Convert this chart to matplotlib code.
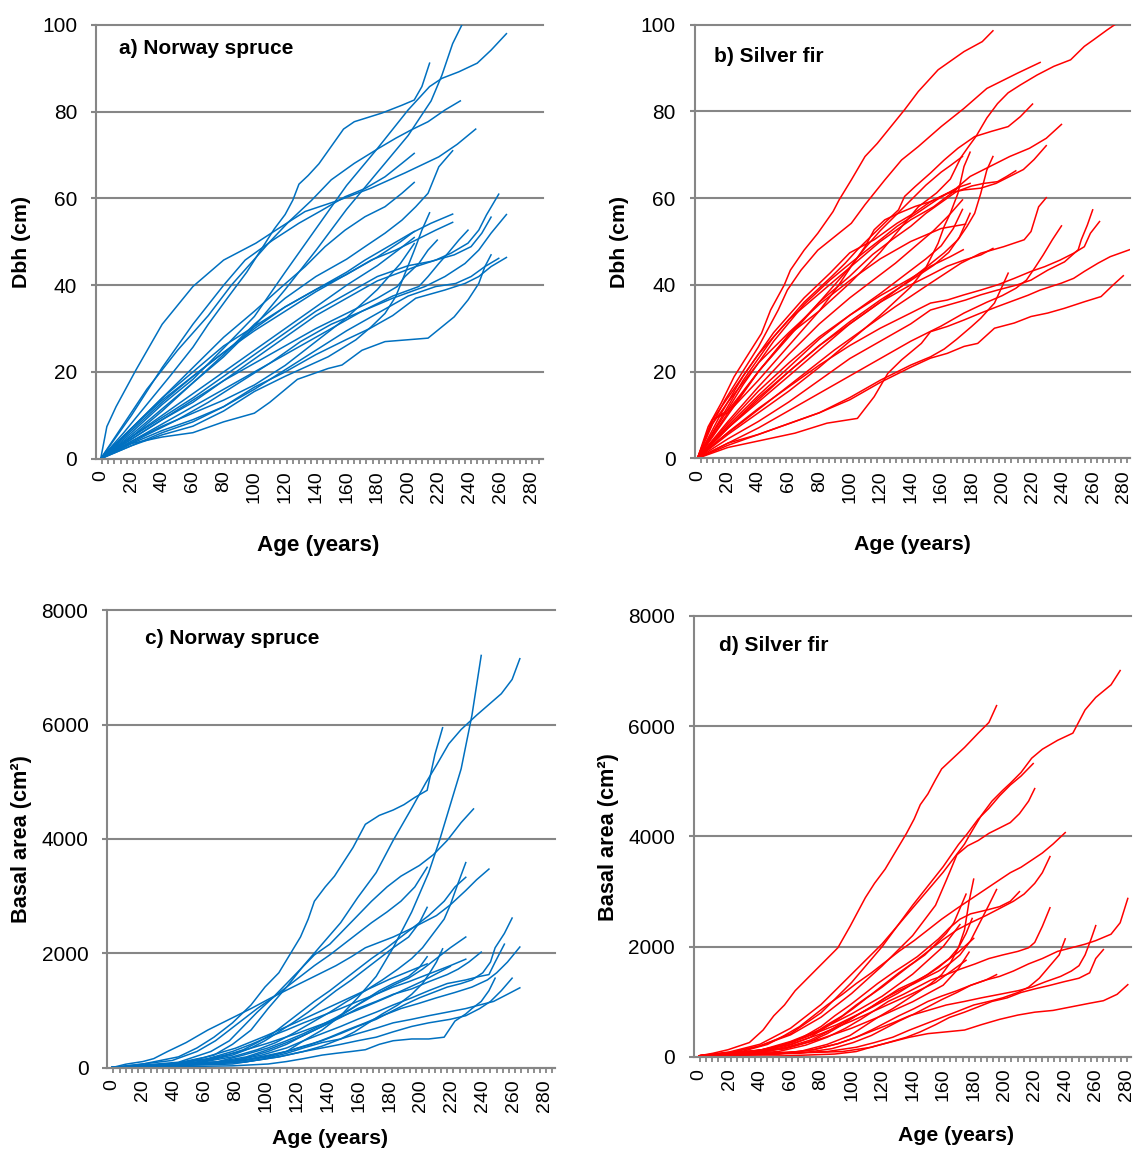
import matplotlib
matplotlib.use("Agg")
import matplotlib.pyplot as plt
import numpy as np

plt.rcParams['font.family'] = ['Liberation Sans', 'DejaVu Sans']

W, H = 1137, 1149
BLUE = '#0070C0'
RED = '#FF0000'
GRID = '#868686'

age_ticks = list(range(0, 281, 20))
dbh_ticks = [0, 20, 40, 60, 80, 100]
ba_ticks = [0, 2000, 4000, 6000, 8000]

# a) Norway spruce, dbh (cm) by age (years)
spruce_dbh = [
    [(0, 0), (15, 6), (30, 12.5), (45, 19), (60, 25.7), (70, 31), (83, 37.3), (95, 43), (104, 48), (113, 53), (120, 56.3), (125, 59.6), (129, 63.3), (135, 65.3), (142, 68), (150, 72), (158, 76), (165, 77.7), (183, 79.7), (196, 81.5), (204, 82.7), (209, 85.8), (214, 91.2)],
    [(0, 0), (20, 5), (40, 11), (60, 17.5), (80, 23.5), (100, 30.5), (120, 39), (140, 48), (160, 57.5), (180, 66), (200, 74.5), (215, 82.5), (222, 88.4), (229, 95.7), (235, 100)],
    [(0, 0), (20, 6), (40, 12.5), (60, 18.3), (80, 25.5), (100, 32.8), (120, 43), (140, 53), (160, 63), (180, 71.5), (200, 80.4), (214, 85.8), (222, 87.7), (233, 89.2), (245, 91.2), (254, 94.2), (264, 98)],
    [(0, 0), (15, 8), (30, 16), (50, 25), (70, 33), (85, 40), (100, 46), (110, 50), (122, 54.5), (137, 59.5), (150, 64.3), (165, 68.1), (181, 71.6), (192, 73.9), (202, 75.8), (213, 77.7), (224, 80.4), (234, 82.5)],
    [(0, 0), (4, 7.4), (10, 12), (23, 20.5), (40, 31), (60, 39.7), (80, 45.8), (101, 49.7), (114, 52.7), (133, 57), (155, 59.6), (176, 62.4), (198, 65.9), (220, 69.6), (232, 72.5), (244, 76)],
    [(0, 0), (20, 5.5), (40, 11.5), (60, 17.5), (80, 24), (100, 31), (120, 37), (140, 42), (160, 46), (172, 48.9), (185, 52), (196, 55), (205, 58.1), (213, 61.2), (220, 67.3), (229, 71)],
    [(0, 0), (20, 10), (40, 21), (60, 31), (80, 40), (94, 45.8), (112, 50.4), (129, 54.3), (144, 57.3), (159, 60.4), (172, 62.3), (185, 65), (196, 68.1), (204, 70.4)],
    [(0, 0), (20, 7), (40, 14), (60, 21), (80, 28), (100, 34), (118, 39.7), (133, 44.3), (146, 48.9), (159, 52.7), (172, 55.8), (185, 58.1), (196, 61.2), (204, 63.7)],
    [(0, 0), (20, 4.5), (40, 9), (60, 13), (80, 18), (100, 23), (120, 28), (140, 33), (160, 37), (180, 41), (205, 44.3), (218, 45.8), (228, 47.4), (239, 49.7), (246, 52.7), (251, 56.2), (259, 61)],
    [(0, 0), (20, 3), (40, 5.5), (60, 7.5), (80, 11), (100, 15.5), (120, 19), (148, 23.5), (166, 27.4), (176, 30.4), (185, 33.5), (192, 37.4), (198, 42.7), (204, 48), (209, 52.7), (214, 56.7)],
    [(0, 0), (20, 6.5), (40, 13), (60, 19), (80, 24.5), (100, 30), (120, 35), (140, 39), (160, 43), (172, 45.8), (187, 48.9), (202, 52), (215, 54.3), (229, 56.4)],
    [(0, 0), (30, 6), (50, 10), (70, 14), (90, 18), (110, 22), (130, 26), (150, 30), (170, 34), (190, 37), (211, 39.7), (224, 42), (237, 45), (246, 48.1), (254, 52), (264, 56.3)],
    [(0, 0), (20, 5), (40, 9.5), (60, 14), (80, 19), (100, 24), (120, 29), (140, 34), (160, 38), (180, 42), (200, 44.5), (215, 45.5), (230, 47), (241, 48.9), (248, 52), (254, 55.7)],
    [(0, 0), (20, 7), (40, 14), (60, 20), (80, 26), (100, 30.5), (120, 35), (140, 39), (160, 42.5), (176, 45.8), (192, 48.1), (205, 50.4), (218, 52.7), (229, 54.5)],
    [(0, 0), (30, 5.5), (50, 9), (70, 13), (90, 17.5), (110, 22), (130, 27), (150, 31), (170, 34), (190, 37.5), (207, 39.7), (213, 42), (220, 45), (226, 47.4), (233, 50.4), (239, 52.7)],
    [(0, 0), (20, 7), (40, 13.5), (60, 19), (80, 24.5), (100, 29.5), (120, 34), (140, 38.5), (160, 42.5), (180, 46.5), (195, 50), (204, 52.4)],
    [(0, 0), (20, 4.5), (40, 9), (60, 13.5), (80, 18), (100, 22), (120, 26), (140, 30), (160, 33.5), (180, 37), (193, 39.7), (198, 42), (207, 45), (213, 48.1), (219, 50.4)],
    [(0, 0), (20, 4), (40, 7.5), (60, 10.5), (80, 13.5), (100, 17), (120, 21.5), (140, 27), (160, 32.5), (180, 39), (195, 45), (204, 49.6)],
    [(0, 0), (20, 3.5), (40, 5), (60, 6), (80, 8.5), (100, 10.5), (110, 13), (128, 18.3), (148, 20.8), (157, 21.6), (170, 25), (185, 27), (213, 27.8), (230, 32.7), (239, 36.6), (246, 40.4), (250, 44.3), (254, 47)],
    [(0, 0), (20, 3.5), (40, 6.5), (60, 9), (80, 12), (100, 16), (120, 20.5), (140, 25), (160, 29.5), (180, 33.5), (200, 37.5), (218, 39.7), (231, 40.4), (241, 42), (250, 44.3), (259, 46.2)],
    [(0, 0), (20, 3), (40, 6), (60, 8.5), (80, 12), (100, 16.5), (120, 20), (140, 24), (160, 27.5), (175, 30), (190, 33), (205, 37), (224, 38.9), (237, 40.4), (246, 42), (254, 44.3), (264, 46.4)],
    [(0, 0), (20, 5), (40, 10), (60, 15), (80, 20), (100, 25), (120, 30), (140, 35), (160, 40), (180, 44.5), (195, 48.5), (204, 51)],
]

# b) Silver fir, dbh (cm) by age (years)
fir_dbh = [
    [(0, 0), (7, 7.3), (15.5, 12.7), (24, 18.8), (31, 22.7), (42, 28.8), (48, 34.2), (57, 40), (61, 43.4), (70, 48), (79, 51.9), (89, 56.9), (93, 59.6), (101, 64.2), (110, 69.6), (118, 72.6), (127, 76.5), (136, 80.4), (145, 84.6), (151, 86.9), (158, 89.6), (175, 93.8), (187, 96.1), (194, 98.6)],
    [(0, 0), (20, 10), (40, 20), (60, 28.5), (80, 34), (100, 40.4), (120, 47.5), (145, 58), (157, 61.2), (166, 64.4), (173, 69.4), (178, 71.9), (183, 74.3), (190, 78.5), (197, 81.8), (204, 84.3), (212, 86.1), (223, 88.4), (234, 90.4), (245, 91.9), (254, 95), (260, 96.5), (269, 98.8), (274, 100)],
    [(0, 0), (7, 6.1), (18, 13.4), (29, 19.6), (40, 25.7), (53, 34.2), (59, 38.8), (68, 43.4), (79, 48), (90, 51.1), (101, 54.2), (110, 58.5), (123, 64.2), (134, 68.8), (145, 71.9), (160, 76.5), (175, 80.7), (190, 85.3), (210, 88.8), (225, 91.3)],
    [(0, 0), (15, 9), (30, 18), (50, 28), (70, 36), (88, 41.9), (97, 45), (105, 48.1), (116, 51.9), (125, 55), (132, 57.3), (136, 60.4), (143, 62.7), (153, 65.8), (162, 68.8), (171, 71.5), (182, 74.2), (193, 75.4), (204, 76.5), (212, 78.8), (220, 81.7)],
    [(0, 0), (15, 8.5), (30, 17), (50, 27), (70, 35.5), (87, 41.1), (98, 44.3), (109, 47.4), (120, 50.4), (131, 53.5), (144, 56.5), (157, 59.6), (170, 62.3), (179, 65), (192, 67.3), (205, 69.6), (218, 71.5), (229, 73.8), (239, 77)],
    [(0, 0), (15, 10), (30, 19), (50, 29), (70, 37), (87, 42.7), (100, 47.4), (116, 50.4), (131, 54.2), (142, 56.5), (153, 59.2), (164, 61.1), (175, 61.9), (186, 62.3), (196, 63.4), (205, 65), (214, 66.6), (221, 68.9), (229, 72.1)],
    [(0, 0), (20, 5.5), (40, 10.5), (60, 15.5), (80, 21), (100, 27), (120, 33), (140, 39.5), (150, 44), (158, 49.6), (162, 53.5), (166, 56.5), (171, 61.1), (175, 67.3), (179, 70.6)],
    [(0, 0), (10, 9), (20, 11), (40, 20), (60, 28), (80, 36), (100, 44), (110, 48.5), (120, 52.5), (130, 56), (140, 59.5), (150, 63), (160, 66), (166, 67.5), (174, 69.6)],
    [(0, 0), (20, 7), (40, 13), (60, 19), (80, 25), (100, 31), (120, 36), (140, 41.3), (151, 44.3), (162, 47.4), (171, 50.4), (177, 53.5), (182, 56.5), (186, 61.1), (190, 66.5), (194, 69.6)],
    [(0, 0), (20, 10.5), (40, 20), (60, 28.5), (80, 36), (100, 42), (115, 47), (128, 50.5), (140, 53.5), (150, 56.5), (160, 59), (170, 61.5), (180, 62.8), (188, 63.4), (197, 63.8), (203, 65), (209, 66.3)],
    [(0, 0), (10, 9), (20, 10.5), (40, 18), (60, 26), (80, 34), (92, 39.6), (101, 44.3), (110, 48.8), (116, 52.7), (123, 55), (132, 56.5), (143, 58.1), (153, 59.2), (164, 61.1), (173, 62.7), (179, 63.4)],
    [(0, 0), (20, 8.5), (40, 16.5), (60, 24), (80, 31), (100, 37), (115, 41), (130, 45), (145, 49.5), (155, 52.5), (165, 56), (174, 59.6)],
    [(0, 0), (20, 7.5), (40, 14.5), (60, 21), (80, 27.5), (100, 33), (120, 38), (135, 42), (150, 46), (160, 49), (168, 53), (174, 57.4)],
    [(0, 0), (20, 7), (40, 14), (60, 20), (80, 26), (100, 31.5), (120, 36.5), (140, 41), (155, 44.5), (165, 47.5), (172, 51), (179, 56.5)],
    [(0, 0), (15, 4.5), (30, 8.5), (50, 14), (70, 19.5), (90, 25), (110, 30), (130, 35), (153, 40.4), (173, 45), (186, 47.3), (201, 48.8), (214.5, 50.4), (219, 52.3), (224, 58), (229, 60.1)],
    [(0, 0), (20, 8), (40, 15.5), (60, 22), (80, 28), (100, 33), (120, 37.5), (140, 41.5), (153, 44.3), (166, 46.5), (174.5, 48.1)],
    [(0, 0), (20, 7), (40, 13.5), (60, 20), (80, 26), (100, 31), (120, 36), (140, 40), (153, 42.3), (164, 44.3), (175, 45.7), (186, 46.9), (194, 48.4)],
    [(0, 0), (20, 4.5), (40, 8.5), (60, 13), (80, 18), (100, 23), (120, 27), (140, 31), (153, 34.2), (165, 35.4), (176, 36.5), (186, 37.7), (197, 38.8), (210, 40), (219, 41.1), (230, 43.4), (241, 45.3), (250, 48.1), (252, 50.4), (256, 53.8), (259.5, 57.3)],
    [(0, 0), (20, 3.5), (40, 7), (60, 11), (80, 15), (100, 19), (120, 23), (140, 27), (160, 30.5), (175, 33.5), (190, 36), (200, 37.5), (209, 39.2), (216, 41.1), (222, 44.2), (227, 46.9), (233, 50.4), (239, 53.6)],
    [(0, 0), (20, 6), (40, 11.5), (60, 16.5), (80, 21.5), (100, 26), (120, 30), (140, 33.5), (153, 35.8), (164, 36.5), (175, 37.7), (186, 38.8), (197, 40), (208, 41.5), (219, 43.1), (228, 44.2), (238, 45.7), (247, 47.3), (254, 48.8), (258, 51.9), (264, 54.6)],
    [(0, 0), (20, 2.5), (40, 4), (64, 5.8), (85, 8.1), (105, 9.2), (116, 14.2), (125, 19.6), (134, 22.7), (147, 26.5), (153, 29.2), (164, 30.4), (175, 31.9), (186, 33.5), (197, 35), (217, 37.6), (225, 38.8), (239, 40.4), (247, 41.5), (254, 43.1), (263, 45), (271, 46.5), (284.5, 48.2)],
    [(0, 0), (20, 3.5), (40, 5.5), (60, 8), (80, 10.5), (100, 14), (120, 18), (140, 21.5), (153, 23.4), (162, 25.2), (170, 27.4), (180, 30.4), (186, 32.3), (195, 35.8), (200, 39.6), (204, 42.7)],
    [(0, 0), (20, 3), (40, 5.5), (60, 8), (80, 10.5), (100, 13.5), (120, 17.5), (140, 21), (153, 23.1), (164, 24.2), (175, 25.8), (184, 26.5), (195, 30), (208, 31.2), (219, 32.7), (230, 33.5), (241, 34.6), (254, 36.1), (265, 37.3), (273, 40), (279.6, 42.1)],
    [(0, 0), (10, 8), (20, 13), (40, 22), (60, 29), (80, 35.5), (100, 41), (120, 46), (140, 50), (160, 53), (176, 54)],
    [(0, 0), (10, 9), (20, 14), (40, 24), (60, 32), (80, 38), (100, 44), (120, 50), (140, 55), (155, 58), (170, 62)],
]

# c) Norway spruce, basal area (cm2) by age (years)
spruce_ba = [
    [(0, 0), (66, 63), (90, 157), (113, 282), (124, 470), (136, 657), (148, 908), (159, 1221), (171, 1596), (182, 2097), (194, 2723), (205, 3412), (212, 3975), (219, 4601), (226, 5227), (233, 6166), (239, 7212)],
    [(0, 0), (43, 63), (66, 219), (78, 407), (90, 657), (101, 1033), (113, 1409), (124, 1784), (136, 2160), (148, 2535), (159, 2974), (171, 3412), (182, 3975), (194, 4539), (203, 4977), (210, 5290), (218, 5665), (226, 5916), (236, 6166), (244, 6354), (252, 6542), (259, 6792), (264, 7155)],
    [(0, 0), (20, 63), (43, 188), (55, 344), (66, 532), (78, 783), (90, 1096), (99, 1409), (108, 1659), (115, 1972), (122, 2285), (127, 2598), (131, 2911), (138, 3161), (144, 3349), (150, 3600), (156, 3850), (164, 4257), (173, 4413), (182, 4507), (189, 4601), (196, 4727), (204, 4852), (209, 5477), (214, 5947)],
    [(0, 0), (43, 94), (64, 282), (76, 470), (85, 720), (94, 970), (104, 1221), (113, 1471), (122, 1722), (131, 1972), (141, 2160), (150, 2410), (159, 2660), (168, 2911), (178, 3161), (187, 3349), (199, 3537), (208, 3725), (217, 3975), (226, 4288), (234, 4526)],
    [(0, 0), (9, 60), (20, 106), (27, 157), (36, 282), (48, 438), (62, 657), (76, 845), (90, 1033), (103, 1221), (117, 1409), (131, 1596), (145, 1784), (155, 1941), (164, 2097), (173, 2191), (182, 2285), (192, 2410), (201, 2535), (210, 2660), (219, 2848), (229, 3099), (236, 3287), (244, 3474)],
    [(0, 0), (55, 81), (78, 188), (94, 313), (106, 438), (117, 595), (129, 783), (141, 970), (152, 1158), (164, 1346), (175, 1534), (185, 1722), (194, 1909), (201, 2097), (208, 2348), (215, 2598), (219, 2848), (224, 3224), (229, 3587)],
    [(0, 0), (39, 125), (55, 282), (67, 470), (76, 657), (85, 845), (94, 1033), (104, 1221), (113, 1409), (122, 1596), (131, 1784), (141, 1972), (150, 2160), (159, 2348), (168, 2535), (178, 2723), (187, 2911), (196, 3161), (204, 3505)],
    [(0, 0), (48, 63), (71, 188), (85, 313), (94, 438), (104, 595), (113, 783), (122, 970), (131, 1158), (141, 1346), (150, 1534), (159, 1722), (168, 1909), (178, 2097), (187, 2285), (196, 2473), (205, 2660), (215, 2911), (222, 3161), (229, 3330)],
    [(0, 0), (57, 94), (78, 219), (90, 344), (99, 470), (108, 626), (117, 783), (127, 970), (136, 1158), (145, 1346), (155, 1534), (164, 1722), (173, 1909), (182, 2097), (192, 2285), (199, 2535), (204, 2804)],
    [(0, 0), (78, 94), (101, 188), (113, 282), (124, 376), (136, 470), (148, 595), (159, 720), (171, 845), (180, 970), (189, 1096), (199, 1221), (208, 1315), (217, 1409), (226, 1471), (233, 1534), (240, 1659), (245, 1847), (248, 2097), (254, 2348), (259, 2617)],
    [(0, 0), (62, 63), (85, 157), (101, 282), (113, 407), (124, 563), (136, 720), (148, 908), (159, 1096), (171, 1283), (182, 1440), (192, 1565), (201, 1722), (210, 1909), (219, 2097), (229, 2285)],
    [(0, 0), (85, 94), (108, 188), (124, 282), (136, 376), (148, 501), (157, 626), (166, 783), (175, 939), (185, 1096), (194, 1283), (201, 1471), (205, 1628), (210, 1847), (214, 2078)],
    [(0, 0), (67, 94), (87, 188), (101, 313), (113, 438), (124, 563), (136, 720), (148, 876), (159, 1033), (171, 1158), (182, 1283), (194, 1377), (205, 1502), (217, 1628), (224, 1722), (231, 1847), (239, 2022)],
    [(0, 0), (67, 94), (85, 219), (101, 344), (113, 470), (124, 595), (136, 751), (145, 876), (155, 1033), (164, 1189), (173, 1346), (182, 1471), (192, 1596), (199, 1753), (204, 1940)],
    [(0, 0), (85, 125), (104, 219), (117, 313), (129, 407), (141, 532), (152, 657), (164, 783), (175, 908), (187, 1033), (199, 1127), (210, 1221), (222, 1315), (233, 1409), (243, 1534), (249, 1659), (256, 1847), (264, 2110)],
    [(0, 0), (39, 63), (62, 157), (78, 282), (90, 407), (101, 532), (113, 657), (124, 783), (136, 908), (148, 1033), (159, 1158), (171, 1283), (182, 1409), (192, 1502), (201, 1596), (210, 1690), (219, 1784), (229, 1897)],
    [(0, 0), (76, 106), (97, 219), (113, 344), (124, 470), (136, 595), (148, 720), (159, 845), (171, 970), (182, 1096), (194, 1221), (205, 1346), (217, 1471), (229, 1534), (238, 1596), (244, 1628), (248, 1847), (254, 2160)],
    [(0, 0), (85, 94), (108, 188), (124, 282), (136, 344), (148, 407), (159, 470), (171, 532), (182, 626), (194, 720), (205, 783), (219, 845), (229, 908), (238, 1033), (245, 1158), (252, 1346), (259, 1565)],
    [(0, 0), (78, 31), (101, 63), (113, 106), (124, 157), (136, 219), (145, 250), (155, 282), (164, 313), (173, 407), (182, 470), (194, 501), (205, 501), (215, 532), (222, 814), (229, 939), (233, 1033), (239, 1158), (244, 1346), (248, 1565)],
    [(0, 0), (78, 63), (99, 157), (113, 250), (124, 344), (136, 438), (148, 501), (159, 595), (171, 689), (182, 783), (194, 845), (205, 908), (217, 970), (229, 1033), (238, 1096), (247, 1158), (256, 1283), (264, 1396)],
    [(0, 0), (40, 70), (60, 180), (80, 340), (100, 560), (120, 800), (140, 1050), (160, 1300), (180, 1550), (204, 1815)],
    [(0, 0), (40, 60), (60, 140), (80, 260), (100, 420), (120, 600), (140, 800), (160, 1020), (180, 1250), (200, 1500), (219, 1772)],
]

# d) Silver fir, basal area (cm2) by age (years)
fir_ba = [
    [(0, 20), (9, 65), (19, 130), (33, 260), (42, 487), (49, 746), (56, 941), (63, 1200), (70, 1395), (77, 1590), (84, 1784), (91, 1979), (99, 2368), (104, 2628), (109, 2887), (115, 3147), (122, 3406), (129, 3731), (136, 4055), (141, 4315), (145, 4574), (150, 4769), (155, 5028), (159, 5223), (164, 5353), (174, 5612), (183, 5872), (190, 6066), (195, 6371)],
    [(0, 20), (20, 90), (40, 230), (60, 520), (80, 950), (100, 1500), (120, 2050), (140, 2700), (160, 3350), (174, 3860), (178, 4055), (185, 4379), (192, 4639), (199, 4834), (204, 4963), (211, 5158), (218, 5417), (225, 5580), (235, 5742), (245, 5872), (253, 6293), (260, 6520), (270, 6748), (276, 7007)],
    [(0, 20), (20, 80), (40, 200), (60, 420), (80, 800), (100, 1350), (120, 2000), (140, 2750), (160, 3450), (170, 3850), (176, 4055), (183, 4315), (190, 4509), (197, 4736), (204, 4931), (211, 5093), (219, 5320)],
    [(0, 20), (20, 70), (40, 200), (60, 400), (80, 720), (100, 1150), (120, 1650), (140, 2200), (155, 2750), (162, 3200), (169, 3666), (176, 3828), (183, 3925), (190, 4055), (197, 4152), (204, 4250), (210, 4412), (216, 4639), (220, 4866)],
    [(0, 20), (28, 97), (45, 227), (56, 389), (66, 551), (75, 746), (84, 941), (94, 1135), (103, 1330), (113, 1525), (122, 1719), (131, 1914), (141, 2109), (150, 2303), (159, 2498), (169, 2692), (176, 2822), (183, 2952), (190, 3082), (197, 3212), (204, 3341), (211, 3439), (218, 3568), (225, 3698), (232, 3860), (240, 4068)],
    [(0, 20), (42, 130), (61, 260), (75, 422), (84, 584), (94, 746), (103, 941), (113, 1135), (122, 1330), (131, 1525), (141, 1719), (150, 1914), (159, 2109), (169, 2303), (178, 2433), (188, 2563), (197, 2692), (206, 2822), (213, 2952), (220, 3147), (225, 3341), (230, 3633)],
    [(0, 15), (66, 97), (84, 227), (99, 389), (108, 551), (117, 714), (127, 876), (136, 1038), (145, 1200), (152, 1330), (159, 1492), (165, 1719), (170, 1979), (174, 2303), (177, 2822), (180, 3224)],
    [(0, 20), (47, 110), (61, 227), (73, 357), (82, 519), (91, 681), (101, 876), (110, 1071), (120, 1265), (129, 1460), (138, 1654), (148, 1849), (155, 2044), (162, 2238), (167, 2433), (171, 2692), (175, 2952)],
    [(0, 20), (56, 143), (73, 279), (84, 422), (94, 584), (103, 746), (113, 908), (122, 1071), (131, 1200), (141, 1330), (150, 1460), (157, 1557), (164, 1687), (171, 1849), (178, 2109), (184, 2433), (190, 2757), (195, 3036)],
    [(0, 20), (33, 84), (54, 195), (68, 357), (80, 551), (89, 746), (99, 941), (108, 1135), (117, 1330), (127, 1525), (136, 1687), (143, 1817), (150, 1979), (157, 2141), (164, 2336), (171, 2498), (178, 2595), (188, 2660), (197, 2725), (204, 2822), (210, 2997)],
    [(0, 20), (56, 162), (73, 305), (84, 454), (94, 616), (103, 746), (113, 908), (122, 1071), (131, 1233), (141, 1362), (150, 1492), (157, 1622), (164, 1784), (170, 1979), (175, 2238), (179, 2511)],
    [(0, 20), (52, 97), (70, 214), (84, 357), (96, 519), (106, 681), (115, 843), (124, 1006), (134, 1135), (143, 1265), (152, 1395), (162, 1492), (171, 1590), (181, 1687), (190, 1784), (199, 1849), (209, 1914), (216, 1979), (220, 2076), (225, 2368), (230, 2705)],
    [(0, 15), (52, 52), (75, 130), (91, 240), (103, 357), (115, 487), (127, 616), (138, 746), (150, 843), (162, 941), (174, 1006), (185, 1071), (197, 1135), (209, 1200), (218, 1265), (227, 1362), (237, 1460), (244, 1557), (249, 1654), (253, 1849), (257, 2141), (260, 2381)],
    [(0, 15), (84, 97), (103, 175), (115, 260), (127, 357), (138, 487), (150, 616), (162, 746), (171, 843), (180, 941), (190, 1006), (199, 1071), (209, 1168), (216, 1265), (223, 1427), (230, 1654), (236, 1849), (240, 2141)],
    [(0, 15), (94, 97), (113, 175), (124, 260), (136, 357), (145, 454), (155, 584), (164, 714), (174, 811), (183, 908), (192, 1006), (202, 1071), (211, 1168), (220, 1233), (230, 1298), (239, 1362), (249, 1427), (256, 1525), (260, 1784), (265, 1946)],
    [(0, 15), (66, 65), (87, 149), (101, 260), (113, 389), (122, 519), (131, 649), (141, 779), (150, 908), (159, 1038), (169, 1168), (178, 1298), (188, 1395), (197, 1460), (206, 1557), (216, 1687), (225, 1784), (235, 1914), (244, 1979), (253, 2044), (260, 2109), (270, 2225), (276, 2433), (281, 2874)],
    [(0, 10), (56, 19), (89, 52), (103, 97), (115, 195), (127, 279), (138, 357), (150, 422), (162, 454), (174, 487), (185, 584), (197, 681), (209, 759), (220, 811), (232, 843), (244, 908), (256, 973), (265, 1019), (274, 1135), (281, 1310)],
    [(0, 15), (52, 58), (75, 130), (91, 240), (103, 357), (113, 487), (122, 616), (131, 746), (141, 876), (150, 1006), (159, 1103), (169, 1200), (178, 1298), (188, 1395), (195, 1492)],
    [(0, 15), (40, 100), (60, 230), (80, 420), (100, 650), (120, 900), (140, 1150), (155, 1350), (165, 1550), (175, 1752)],
    [(0, 15), (40, 80), (60, 180), (80, 330), (100, 520), (120, 750), (140, 1000), (160, 1300), (170, 1600), (177, 1900)],
    [(0, 15), (40, 120), (60, 280), (80, 500), (100, 780), (120, 1100), (140, 1500), (160, 2000), (171, 2400)],
    [(0, 15), (30, 70), (50, 180), (70, 360), (90, 580), (110, 850), (130, 1150), (150, 1500), (170, 1900), (180, 2150)],
]


def add_panel(fig, box, xlim, yticks, curves, color, title, title_xy):
    x0, x1, ytop, ybot = box
    ax = fig.add_axes([x0 / W, 1 - ybot / H, (x1 - x0) / W, (ybot - ytop) / H])
    for yv in yticks:
        ax.axhline(yv, color=GRID, lw=1.5, zorder=0, clip_on=False)
    for curve in curves:
        ages = [p[0] for p in curve]
        vals = [p[1] for p in curve]
        ax.plot(ages, vals, color=color, lw=1.1, solid_joinstyle='round', zorder=2)

    ax.set_xlim(*xlim)
    ax.set_ylim(yticks[0], yticks[-1])
    for side in ['top', 'right']:
        ax.spines[side].set_visible(False)
    for side in ['left', 'bottom']:
        ax.spines[side].set_color(GRID)
        ax.spines[side].set_linewidth(1.5)

    ax.set_yticks(yticks)
    ax.set_yticklabels([str(v) for v in yticks])
    ax.tick_params(axis='y', length=3.6, width=1.5, color=GRID, pad=10, labelsize=15)

    ax.set_xticks(age_ticks)
    ax.set_xticklabels([str(v) for v in age_ticks], rotation=90)
    ax.tick_params(axis='x', which='major', length=0, pad=8.5, labelsize=14)
    ax.set_xticks(np.arange(xlim[0] + 4, xlim[1] + 0.5, 4), minor=True)
    ax.tick_params(axis='x', which='minor', length=3.8, width=1.3, color=GRID)

    ax.text(title_xy[0], title_xy[1], title, fontsize=15, fontweight='bold',
            ha='left', va='center')
    return ax


fig = plt.figure(figsize=(W / 100, H / 100), dpi=100)

add_panel(fig, (96, 543, 25, 458.7), (-3.06, 287.8), dbh_ticks, spruce_dbh, BLUE,
          'a) Norway spruce', (12.2, 94.5))
add_panel(fig, (694.7, 1130, 24.7, 458.3), (-1.84, 284.0), dbh_ticks, fir_dbh, RED,
          'b) Silver fir', (10.8, 92.6))
add_panel(fig, (107.3, 554.6, 610.4, 1067.6), (-3.04, 286.5), ba_ticks, spruce_ba, BLUE,
          'c) Norway spruce', (21.5, 7500))
add_panel(fig, (694, 1131, 615.8, 1056.9), (-3.28, 283.1), ba_ticks, fir_ba, RED,
          'd) Silver fir', (12.8, 7470))


def fig_label(x, y, text, size, rot=0):
    fig.text(x / W, 1 - y / H, text, fontsize=size, fontweight='bold',
             ha='center', va='center', rotation=rot)


fig_label(22, 242, 'Dbh (cm)', 15.3, 90)
fig_label(318.4, 545.6, 'Age (years)', 16.2)
fig_label(619.5, 242, 'Dbh (cm)', 15.3, 90)
fig_label(912, 544.5, 'Age (years)', 15.4)
fig_label(22, 839, 'Basal area (cm²)', 15.6, 90)
fig_label(330.4, 1139, 'Age (years)', 15.3)
fig_label(608.3, 837, 'Basal area (cm²)', 15.6, 90)
fig_label(956.4, 1135.6, 'Age (years)', 15.3)

fig.savefig('out.png', dpi=100)
